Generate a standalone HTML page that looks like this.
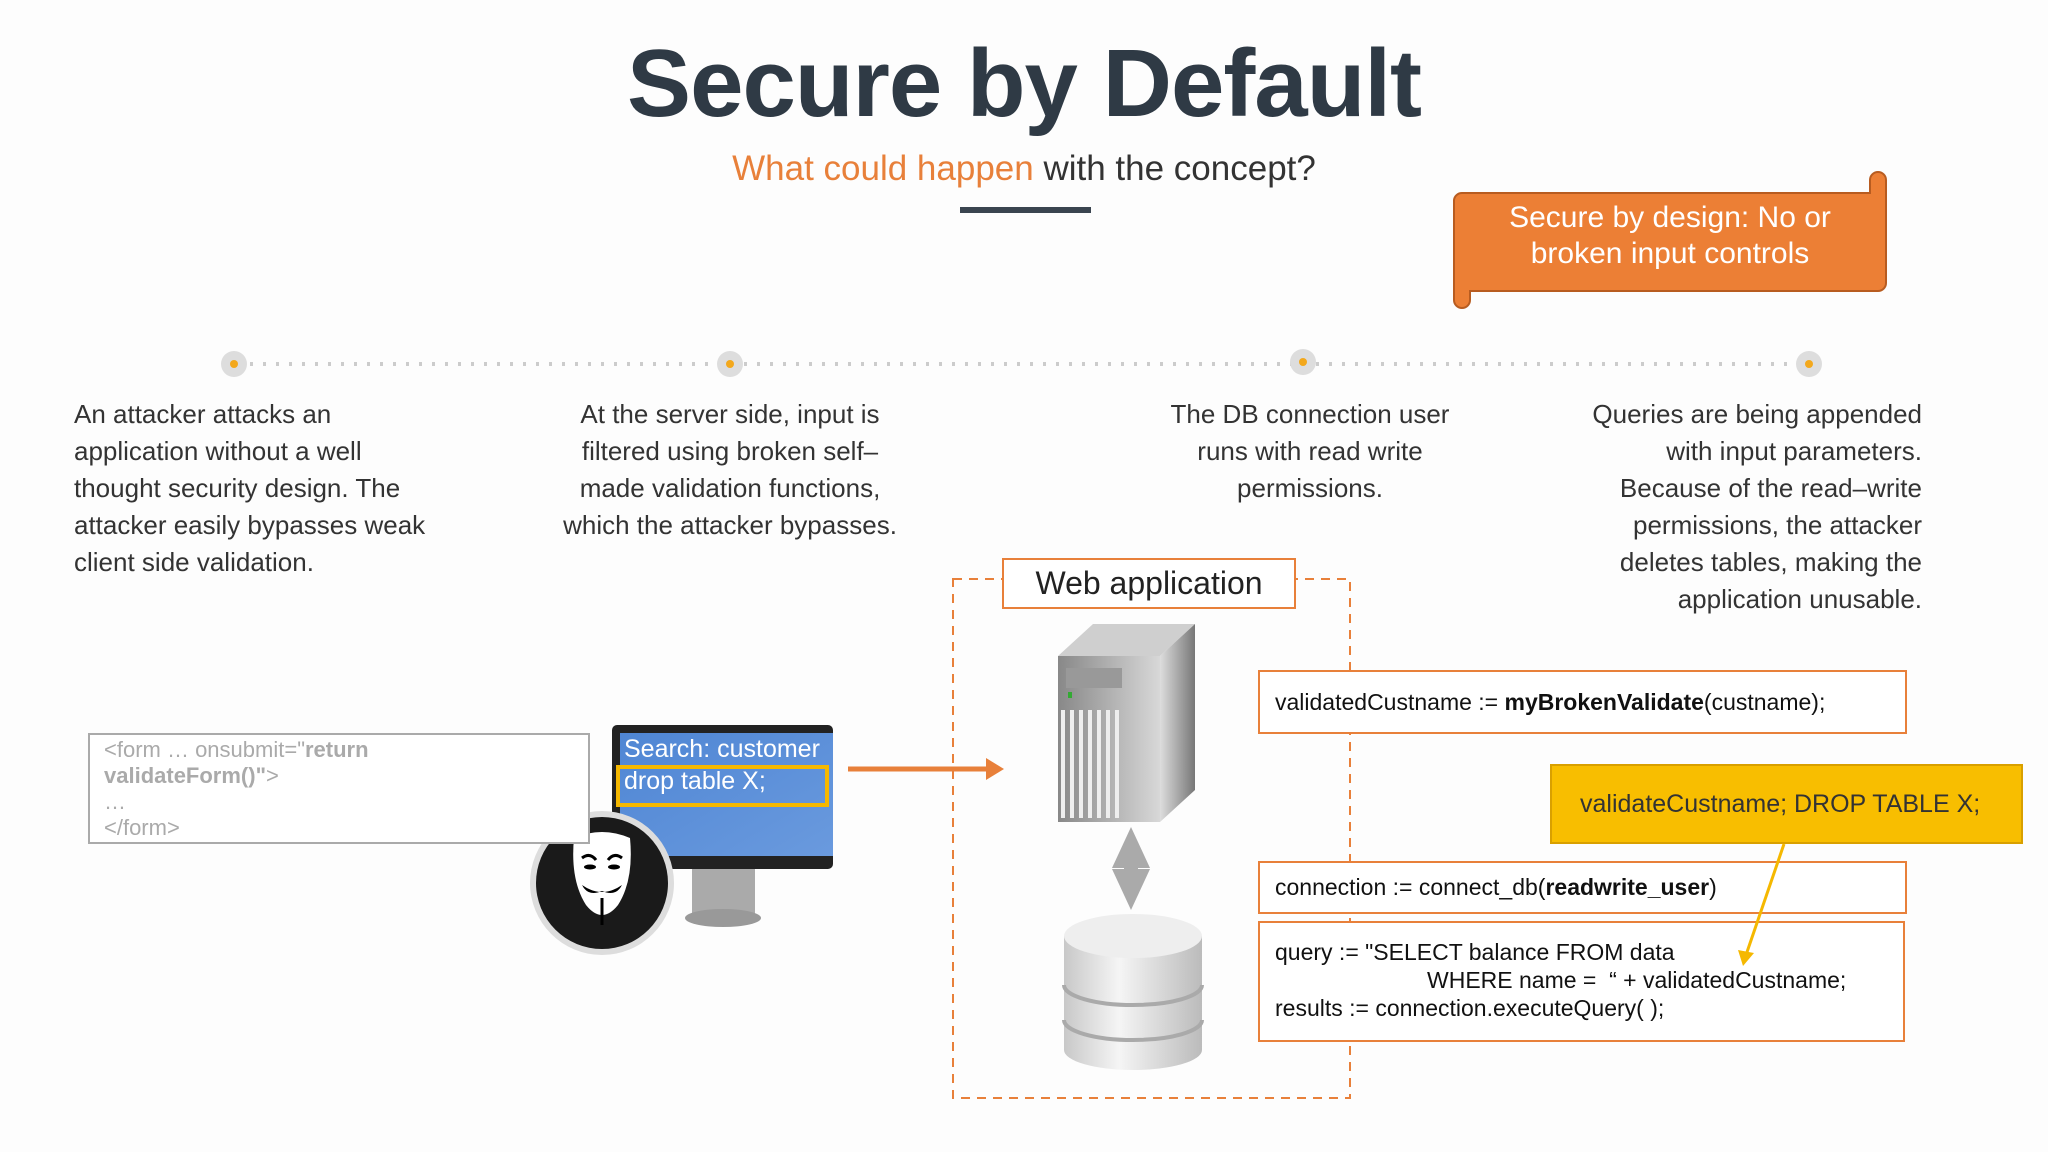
<!DOCTYPE html>
<html><head><meta charset="utf-8"><style>
body{margin:0;width:2048px;height:1152px;background:#fdfdfd;position:relative;overflow:hidden;font-family:"Liberation Sans","DejaVu Sans",sans-serif;color:#333}
.a{position:absolute}
.t{font-size:26px;line-height:37px;color:#333;white-space:nowrap}
.code{position:absolute;border:2px solid #e8803a;background:#fff;font-size:23px;color:#111;box-sizing:border-box;padding-left:15px;white-space:nowrap}
</style></head><body>
<div class="a" style="left:0;width:2048px;top:24px;text-align:center;font-size:96px;font-weight:bold;color:#2f3a45;line-height:120px;letter-spacing:-1px">Secure by Default</div>
<div class="a" style="left:0;width:2048px;top:147px;text-align:center;font-size:35px;line-height:44px"><span style="color:#e8803a">What could happen</span> with the concept?</div>
<div class="a" style="left:960px;top:207px;width:131px;height:6px;background:#3a4550"></div>

<svg class="a" style="left:0;top:0" width="2048" height="1152">
 <path d="M1462 193 H1870 V180 a8 8 0 0 1 16 0 V283 a8 8 0 0 1 -8 8 H1470 V300 a8 8 0 0 1 -16 0 V200 a8 8 0 0 1 8 -7z" fill="#ec7f35" stroke="#b85c20" stroke-width="2"/>
 <line x1="250" y1="364" x2="1795" y2="364" stroke="#ccc" stroke-width="4" stroke-dasharray="3 10"/>
 <g fill="#ddd"><circle cx="234" cy="364" r="13"/><circle cx="730" cy="364" r="13"/><circle cx="1303" cy="362" r="13"/><circle cx="1809" cy="364" r="13"/></g>
 <g fill="#f3a81c"><circle cx="234" cy="364" r="4"/><circle cx="730" cy="364" r="4"/><circle cx="1303" cy="362" r="4"/><circle cx="1809" cy="364" r="4"/></g>
 <rect x="953" y="579" width="397" height="519" fill="none" stroke="#e8803a" stroke-width="2" stroke-dasharray="9 7"/>
 <line x1="848" y1="769" x2="990" y2="769" stroke="#e8803a" stroke-width="5"/>
 <polygon points="986,758 1004,769 986,780" fill="#e8803a"/>
 <defs>
  <linearGradient id="sf" x1="0" x2="1"><stop offset="0" stop-color="#888"/><stop offset="1" stop-color="#d8d8d8"/></linearGradient>
  <linearGradient id="ss" x1="0" x2="1"><stop offset="0" stop-color="#ddd"/><stop offset="1" stop-color="#777"/></linearGradient>
  <linearGradient id="db" x1="0" x2="1"><stop offset="0" stop-color="#c8c8c8"/><stop offset="0.4" stop-color="#f5f5f5"/><stop offset="1" stop-color="#bbb"/></linearGradient>
  <linearGradient id="scr" x1="0" y1="0" x2="1" y2="1"><stop offset="0" stop-color="#4f86d4"/><stop offset="1" stop-color="#6a9ade"/></linearGradient>
 </defs>
 <polygon points="1058,656 1093,624 1195,624 1160,656" fill="#cfcfcf"/>
 <polygon points="1058,656 1160,656 1160,822 1058,822" fill="url(#sf)"/>
 <polygon points="1160,656 1195,624 1195,790 1160,822" fill="url(#ss)"/>
 <rect x="1066" y="668" width="56" height="20" fill="#999"/>
 <rect x="1068" y="692" width="4" height="6" fill="#3a3"/>
 <g stroke="#eee" stroke-width="4"><line x1="1063" y1="710" x2="1063" y2="818"/><line x1="1072" y1="710" x2="1072" y2="818"/><line x1="1081" y1="710" x2="1081" y2="818"/><line x1="1090" y1="710" x2="1090" y2="818"/><line x1="1099" y1="710" x2="1099" y2="818"/><line x1="1108" y1="710" x2="1108" y2="818"/><line x1="1117" y1="710" x2="1117" y2="818"/></g>
 <polygon points="1131,827 1150,868 1112,868" fill="#aaa"/>
 <polygon points="1131,910 1150,869 1112,869" fill="#aaa"/>
 <rect x="1124" y="850" width="14" height="40" fill="#aaa"/>
 <path d="M1064 936 V1050 a69 20 0 0 0 138 0 V936" fill="url(#db)"/>
 <ellipse cx="1133" cy="936" rx="69" ry="22" fill="#eee"/>
 <path d="M1064 985 a69 20 0 0 0 138 0" fill="none" stroke="#aaa" stroke-width="4"/>
 <path d="M1064 1020 a69 20 0 0 0 138 0" fill="none" stroke="#aaa" stroke-width="4"/>
 <rect x="692" y="866" width="63" height="50" fill="#aaa"/>
 <ellipse cx="723" cy="918" rx="38" ry="9" fill="#999"/>
 <rect x="612" y="725" width="221" height="144" rx="5" fill="#222"/>
 <rect x="620" y="733" width="213" height="123" fill="url(#scr)"/>
 <rect x="618" y="767" width="209" height="38" fill="none" stroke="#f5b800" stroke-width="4"/>
 <circle cx="602" cy="883" r="72" fill="#ddd"/>
 <circle cx="602" cy="883" r="66" fill="#1a1a1a"/>
 <path d="M574 838 Q602 826 630 838 Q634 880 618 905 Q602 925 586 905 Q570 880 574 838z" fill="#fff"/>
 <path d="M582 858 q8 -6 14 2 M608 860 q6 -8 14 -2" stroke="#000" stroke-width="3" fill="none"/>
 <ellipse cx="590" cy="867" rx="6" ry="2.5" fill="#000"/><ellipse cx="614" cy="867" rx="6" ry="2.5" fill="#000"/>
 <path d="M582 885 q20 14 40 0 q-6 12 -20 6 q-14 6 -20 -6z" fill="#000"/>
 <line x1="602" y1="898" x2="602" y2="925" stroke="#000" stroke-width="3"/>
</svg>

<div class="a" style="left:1452px;top:200px;width:436px;text-align:center;color:#fff;font-size:30px;line-height:36px">Secure by design: No or<br>broken input controls</div>

<div class="a t" style="left:74px;top:396px">An attacker attacks an<br>application without a well<br>thought security design. The<br>attacker easily bypasses weak<br>client side validation.</div>
<div class="a t" style="left:480px;width:500px;top:396px;text-align:center">At the server side, input is<br>filtered using broken self–<br>made validation functions,<br>which the attacker bypasses.</div>
<div class="a t" style="left:1060px;width:500px;top:396px;text-align:center">The DB connection user<br>runs with read write<br>permissions.</div>
<div class="a t" style="left:1420px;width:502px;top:396px;text-align:right">Queries are being appended<br>with input parameters.<br>Because of the read–write<br>permissions, the attacker<br>deletes tables, making the<br>application unusable.</div>

<div class="a" style="left:1002px;top:558px;width:294px;height:51px;box-sizing:border-box;border:2px solid #e8803a;background:#fff;text-align:center;font-size:32px;line-height:46px;color:#222">Web application</div>

<div class="a" style="left:88px;top:733px;width:502px;height:111px;box-sizing:border-box;border:2px solid #aaa;background:#fff;padding:2px 14px;font-size:22px;line-height:26px;color:#aaa">&lt;form … onsubmit="<b>return</b><br><b>validateForm()"</b>&gt;<br>…<br>&lt;/form&gt;</div>

<div class="a" style="left:624px;top:733px;width:209px;overflow:hidden;white-space:nowrap;color:#fff;font-size:25px;line-height:32px">Search: customer<br>drop table X;</div>

<div class="code" style="left:1258px;top:670px;width:649px;height:64px;line-height:60px">validatedCustname := <b>myBrokenValidate</b>(custname);</div>
<div class="a" style="left:1550px;top:764px;width:473px;height:80px;background:#f8be00;border:2px solid #d9a000;box-sizing:border-box;font-size:25px;line-height:76px;padding-left:28px;color:#333;white-space:nowrap">validateCustname; DROP TABLE X;</div>
<div class="code" style="left:1258px;top:861px;width:649px;height:53px;line-height:49px">connection := connect_db(<b>readwrite_user</b>)</div>
<div class="code" style="left:1258px;top:921px;width:647px;height:121px;line-height:28px;padding-top:15px">query := "SELECT balance FROM data<br><span style="padding-left:152px">WHERE name =&nbsp; “ + validatedCustname;</span><br>results := connection.executeQuery( );</div>

<svg class="a" style="left:0;top:0" width="2048" height="1152">
 <line x1="1784" y1="844" x2="1746" y2="955" stroke="#f5b800" stroke-width="3"/>
 <polygon points="1738,950 1743,966 1754,953" fill="#f5b800"/>
</svg>
</body></html>
